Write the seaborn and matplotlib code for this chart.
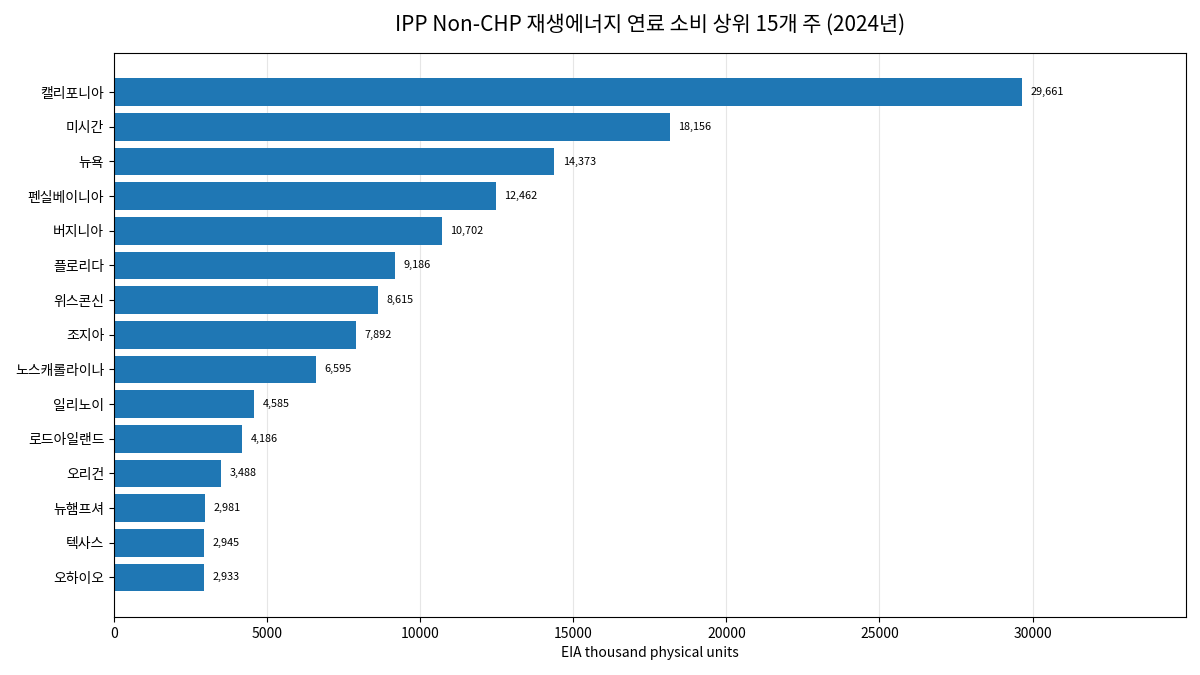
import matplotlib
matplotlib.use("Agg")
import matplotlib.pyplot as plt
import seaborn as sns
import pandas as pd

# Data
states = ["캘리포니아", "미시간", "뉴욕", "펜실베이니아", "버지니아", "플로리다", "위스콘신",
          "조지아", "노스캐롤라이나", "일리노이", "로드아일랜드", "오리건", "뉴햄프셔", "텍사스", "오하이오"]
values = [29661, 18156, 14373, 12462, 10702, 9186, 8615, 7892, 6595, 4585, 4186, 3488, 2981, 2945, 2933]

df = pd.DataFrame({"state": states, "value": values})

sns.set_style("white")
plt.rcParams["font.family"] = ["Noto Sans CJK KR", "DejaVu Sans"]
plt.rcParams.update({"text.color": "black", "axes.labelcolor": "black",
                     "xtick.color": "black", "ytick.color": "black"})

fig, ax = plt.subplots(figsize=(12, 6.75), dpi=100)
sns.barplot(data=df, x="value", y="state", orient="h", color="#1f77b4",
            saturation=1, width=0.8, linewidth=0, ax=ax)

# value labels next to each bar
for i, v in enumerate(values):
    ax.text(v + 280, i, f"{v:,}", va="center", ha="left", fontsize=7.8, color="black")

ax.set_xlim(0, 35000)
ax.set_ylim(len(values) - 1 + 0.4 + 0.74, -0.4 - 0.74)
ax.xaxis.grid(True, color="#e6e6e6", linewidth=0.8)
ax.set_axisbelow(True)
for s in ax.spines.values():
    s.set_visible(True)
    s.set_color("black")
    s.set_linewidth(0.8)
ax.tick_params(axis="both", length=3.5, width=0.8, labelsize=10, left=True, bottom=True)
ax.set_xticks([0, 5000, 10000, 15000, 20000, 25000, 30000])
ax.set_ylabel("")
ax.set_xlabel("EIA thousand physical units", fontsize=10)
ax.set_title("IPP Non-CHP 재생에너지 연료 소비 상위 15개 주 (2024년)", fontsize=15, pad=16)

fig.subplots_adjust(left=0.095, right=0.988, top=0.922, bottom=0.086)
fig.savefig("out.png", dpi=100)
